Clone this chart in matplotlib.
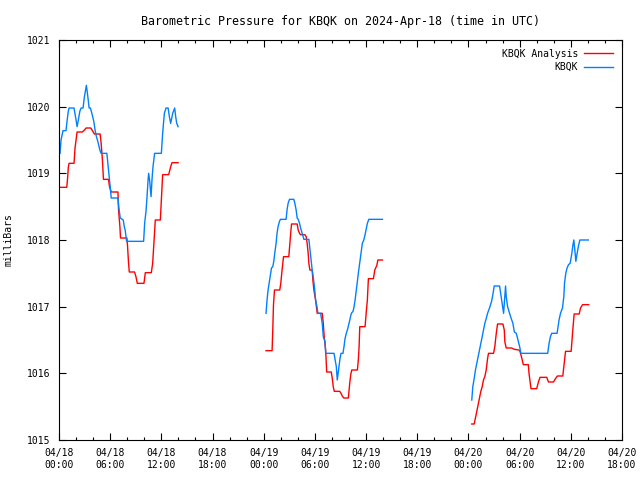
import matplotlib
matplotlib.use("Agg")
import matplotlib.pyplot as plt
import matplotlib.dates as mdates
import numpy as np
import pandas as pd

START = pd.Timestamp("2024-04-18 00:00")

# hours since 04/18 00:00 UTC, pressure in mb; NaN breaks the line between days
obs_hours = [
    0.12, 0.24, 0.47, 0.82, 0.94, 1.09, 1.18, 1.76, 2.0, 2.12, 2.27, 2.44, 2.59, 2.82,
    2.98, 3.21, 3.38, 3.53, 3.68, 3.85, 4.08, 4.24, 4.39, 4.55, 4.79, 4.94, 5.61, 5.73,
    5.88, 6.0, 6.12, 6.91, 7.0, 7.18, 7.53, 7.68, 7.76, 7.92, 9.92, 10.04, 10.2, 10.32,
    10.44, 10.51, 10.62, 10.79, 10.91, 11.02, 11.21, 12.0, 12.15, 12.35, 12.55, 12.79,
    12.94, 13.09, 13.33, 13.56, 13.68, 13.8, 13.96,
    19.0,
    24.27, 24.39, 24.51, 24.67, 24.79, 24.91, 25.06, 25.18, 25.29, 25.45, 25.56, 25.68,
    25.85, 25.96, 26.62, 26.74, 26.86, 27.02, 27.53, 27.65, 27.8, 27.92, 28.04, 28.2,
    28.32, 28.51, 28.71, 29.29, 29.41, 29.56, 29.68, 29.8, 29.96, 30.08, 30.24, 30.35,
    30.67, 30.86, 30.98, 31.18, 31.26, 32.24, 32.35, 32.51, 32.62, 32.82, 32.94, 33.06,
    33.29, 33.41, 33.53, 33.68, 33.85, 34.0, 34.2, 34.27, 34.47, 34.59, 34.71, 34.86,
    34.98, 35.09, 35.26, 35.41, 35.56, 35.73, 35.88, 36.04, 36.15, 36.32, 37.92,
    43.0,
    48.39, 48.51, 48.67, 48.82, 48.98, 49.14, 49.29, 49.45, 49.61, 49.76, 49.92, 50.08,
    50.24, 50.47, 50.71, 50.86, 51.02, 51.65, 51.8, 52.04, 52.12, 52.2, 52.35, 52.43,
    52.59, 52.82, 53.02, 53.21, 53.38, 53.61, 53.85, 54.0, 54.15, 57.29, 57.45, 57.61,
    57.76, 58.39, 58.47, 58.62, 58.79, 59.02, 59.18, 59.26, 59.41, 59.56, 59.73, 59.92,
    60.12, 60.24, 60.35, 60.47, 60.59, 60.74, 60.91, 61.06, 62.05,
]
obs_mb = [
    1019.30, 1019.50, 1019.64, 1019.64, 1019.78, 1019.93, 1019.98, 1019.98, 1019.80,
    1019.70, 1019.80, 1019.93, 1019.98, 1019.98, 1020.15, 1020.32, 1020.15, 1019.98,
    1019.98, 1019.90, 1019.78, 1019.64, 1019.55, 1019.48, 1019.35, 1019.30, 1019.30,
    1019.15, 1018.97, 1018.80, 1018.63, 1018.63, 1018.50, 1018.33, 1018.30, 1018.18,
    1018.15, 1017.98, 1017.98, 1018.25, 1018.43, 1018.65, 1018.90, 1019.00, 1018.90,
    1018.65, 1018.92, 1019.10, 1019.30, 1019.30, 1019.60, 1019.90, 1019.98, 1019.98,
    1019.85, 1019.75, 1019.90, 1019.98, 1019.85, 1019.75, 1019.70,
    np.nan,
    1016.90, 1017.10, 1017.25, 1017.38, 1017.48, 1017.58, 1017.60, 1017.68, 1017.80,
    1017.95, 1018.10, 1018.20, 1018.28, 1018.31, 1018.31, 1018.46, 1018.55, 1018.61,
    1018.61, 1018.55, 1018.45, 1018.33, 1018.31, 1018.25, 1018.18, 1018.10, 1018.01,
    1018.01, 1017.87, 1017.70, 1017.55, 1017.45, 1017.28, 1017.10, 1017.00, 1016.90,
    1016.90, 1016.75, 1016.55, 1016.48, 1016.30, 1016.30, 1016.22, 1016.10, 1015.90,
    1016.10, 1016.22, 1016.30, 1016.30, 1016.40, 1016.52, 1016.60, 1016.67, 1016.75,
    1016.86, 1016.90, 1016.93, 1017.00, 1017.10, 1017.25, 1017.38, 1017.50, 1017.66,
    1017.80, 1017.95, 1018.00, 1018.08, 1018.18, 1018.25, 1018.31, 1018.31,
    np.nan,
    1015.60, 1015.80, 1015.92, 1016.05, 1016.15, 1016.25, 1016.35, 1016.45, 1016.55,
    1016.65, 1016.75, 1016.82, 1016.90, 1016.98, 1017.08, 1017.18, 1017.31, 1017.31,
    1017.18, 1016.98, 1016.90, 1017.05, 1017.31, 1017.15, 1017.00, 1016.90, 1016.82,
    1016.75, 1016.62, 1016.60, 1016.48, 1016.40, 1016.30, 1016.30, 1016.45, 1016.55,
    1016.60, 1016.60, 1016.67, 1016.80, 1016.90, 1016.98, 1017.15, 1017.35, 1017.50,
    1017.58, 1017.63, 1017.65, 1017.80, 1017.92, 1018.00, 1017.85, 1017.68, 1017.80,
    1017.92, 1018.00, 1018.00,
]

ana_hours = [
    0.12, 0.91, 1.02, 1.09, 1.18, 1.76, 1.88, 2.12, 2.74, 2.98, 3.18, 3.73, 3.92, 4.15,
    4.82, 4.94, 5.09, 5.21, 5.8, 5.92, 6.12, 6.91, 6.98, 7.14, 7.21, 7.96, 8.04, 8.15,
    8.24, 8.86, 9.02, 9.18, 9.96, 10.12, 10.82, 10.98, 11.14, 11.29, 11.88, 12.0, 12.15,
    12.86, 13.09, 13.25, 13.96,
    19.0,
    24.27, 24.98, 25.06, 25.14, 25.26, 25.88, 26.0, 26.15, 26.32, 26.94, 27.06, 27.18,
    27.26, 27.92, 28.04, 28.2, 28.32, 28.82, 28.98, 29.09, 29.21, 29.29, 29.41, 29.68,
    29.76, 29.88, 30.08, 30.2, 30.27, 30.86, 30.98, 31.09, 31.26, 31.38, 31.92, 32.04,
    32.15, 32.27, 32.91, 33.06, 33.21, 33.38, 33.92, 34.08, 34.2, 34.32, 34.98, 35.09,
    35.18, 35.26, 35.88, 36.04, 36.15, 36.27, 36.86, 37.02, 37.26, 37.38, 37.92,
    43.0,
    48.39, 48.67, 48.82, 48.98, 49.14, 49.29, 49.45, 49.61, 49.76, 49.92, 50.08, 50.24,
    50.35, 50.94, 51.09, 51.26, 51.41, 52.04, 52.2, 52.27, 52.43, 53.06, 53.38, 53.92,
    54.04, 54.27, 54.43, 55.02, 55.1, 55.33, 56.0, 56.2, 56.39, 57.18, 57.38, 57.96,
    58.2, 58.43, 59.06, 59.26, 59.38, 60.04, 60.2, 60.39, 60.98, 61.14, 61.38, 62.1,
]
ana_mb = [
    1018.79, 1018.79, 1018.95, 1019.09, 1019.15, 1019.15, 1019.38, 1019.62, 1019.62,
    1019.65, 1019.68, 1019.68, 1019.64, 1019.59, 1019.59, 1019.45, 1019.20, 1018.91,
    1018.91, 1018.80, 1018.72, 1018.72, 1018.45, 1018.20, 1018.03, 1018.03, 1017.90,
    1017.66, 1017.52, 1017.52, 1017.45, 1017.35, 1017.35, 1017.51, 1017.51, 1017.65,
    1018.00, 1018.30, 1018.30, 1018.60, 1018.98, 1018.98, 1019.10, 1019.16, 1019.16,
    np.nan,
    1016.34, 1016.34, 1016.65, 1017.02, 1017.25, 1017.25, 1017.35, 1017.55, 1017.75,
    1017.75, 1017.95, 1018.13, 1018.24, 1018.24, 1018.15, 1018.10, 1018.08, 1018.08,
    1018.05, 1017.95, 1017.80, 1017.65, 1017.55, 1017.55, 1017.40, 1017.25, 1017.10,
    1016.97, 1016.90, 1016.90, 1016.75, 1016.55, 1016.35, 1016.02, 1016.02, 1015.92,
    1015.80, 1015.73, 1015.73, 1015.70, 1015.66, 1015.63, 1015.63, 1015.85, 1015.98,
    1016.05, 1016.05, 1016.20, 1016.40, 1016.70, 1016.70, 1016.95, 1017.10, 1017.42,
    1017.42, 1017.55, 1017.62, 1017.70, 1017.70,
    np.nan,
    1015.24, 1015.24, 1015.33, 1015.43, 1015.53, 1015.63, 1015.73, 1015.80, 1015.90,
    1015.95, 1016.05, 1016.22, 1016.30, 1016.30, 1016.40, 1016.60, 1016.74, 1016.74,
    1016.65, 1016.47, 1016.38, 1016.38, 1016.36, 1016.35, 1016.33, 1016.22, 1016.13,
    1016.13, 1016.00, 1015.77, 1015.77, 1015.87, 1015.94, 1015.94, 1015.87, 1015.87,
    1015.92, 1015.96, 1015.96, 1016.20, 1016.33, 1016.33, 1016.60, 1016.89, 1016.89,
    1016.98, 1017.03, 1017.03,
]

obs_t = START + pd.to_timedelta(obs_hours, unit="h")
ana_t = START + pd.to_timedelta(ana_hours, unit="h")

plt.rcParams["font.family"] = "DejaVu Sans Mono"
plt.rcParams["font.size"] = 7

fig = plt.figure(figsize=(6.4, 4.8), dpi=100)
ax = fig.add_axes([59 / 640, 40 / 480, 563 / 640, 400 / 480])

ax.plot(ana_t, ana_mb, color="#ff0000", lw=1.0, label="KBQK Analysis")
ax.plot(obs_t, obs_mb, color="#0080ff", lw=1.0, label="KBQK")

ax.set_xlim(START, START + pd.Timedelta(hours=66))
ax.set_ylim(1015, 1021)
ax.set_yticks(range(1015, 1022))

ax.xaxis.set_major_locator(mdates.HourLocator(byhour=[0, 6, 12, 18]))
ax.xaxis.set_minor_locator(mdates.HourLocator(interval=2))
ax.xaxis.set_major_formatter(mdates.DateFormatter("%m/%d\n%H:%M"))

ax.tick_params(which="both", direction="in", top=True, right=True, color="black")
ax.tick_params(which="major", length=5, width=0.8, pad=6)
ax.tick_params(which="minor", length=2.5, width=0.8)
for s in ax.spines.values():
    s.set_linewidth(0.8)

ax.set_ylabel("milliBars")
ax.yaxis.set_label_coords(-45 / 563, 0.5)
ax.set_title("Barometric Pressure for KBQK on 2024-Apr-18 (time in UTC)", pad=11)

leg = ax.legend(loc="upper right", frameon=False, markerfirst=False,
                handlelength=3.0, handletextpad=0.6, labelspacing=0.35,
                borderaxespad=0.5)

fig.savefig("out.png", dpi=100)
